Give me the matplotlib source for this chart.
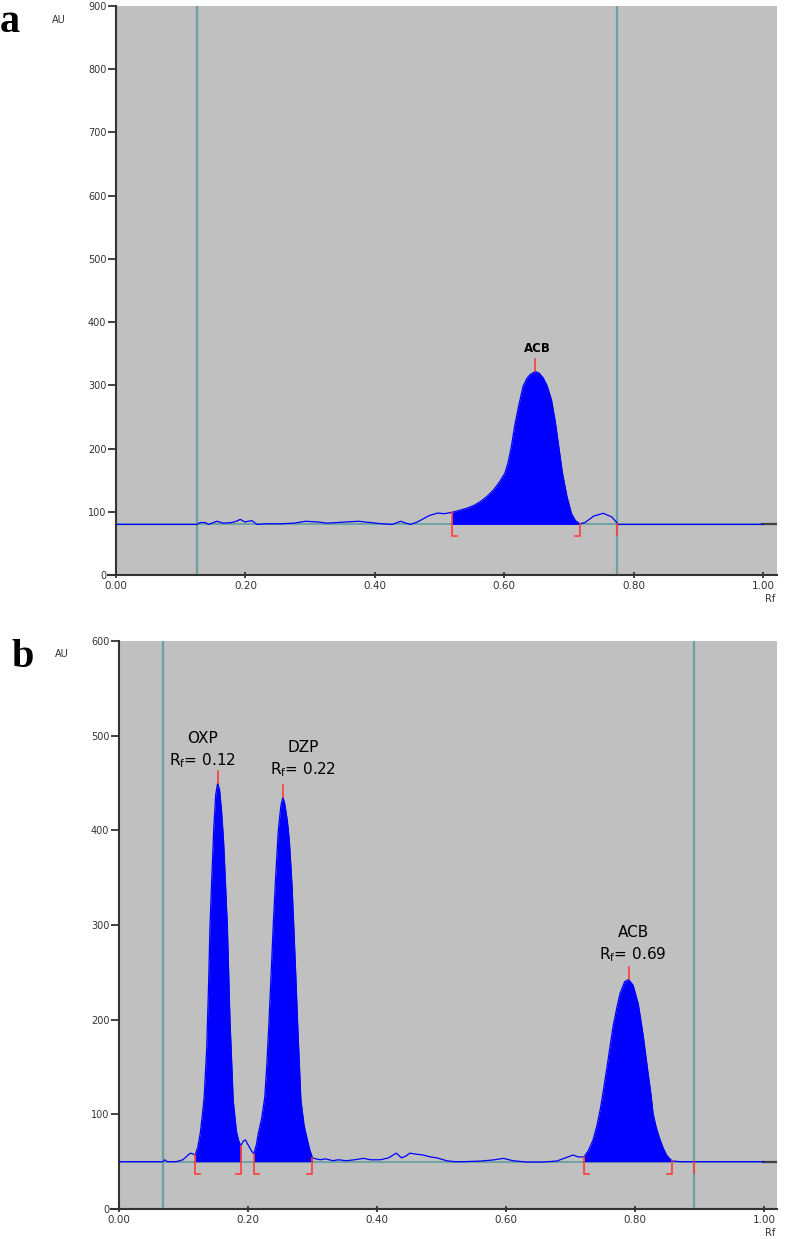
import numpy as np
import matplotlib.pyplot as plt

plt.rcParams['mathtext.default'] = 'regular'

# ---- panel a : densitogram trace (Rf, AU) ----
rf_a = [0.000, 0.125, 0.130, 0.138, 0.143, 0.156, 0.166, 0.179, 0.186, 0.192,
        0.199, 0.210, 0.218, 0.231, 0.254, 0.275, 0.293, 0.311, 0.326, 0.342,
        0.357, 0.375, 0.393, 0.411, 0.427, 0.440, 0.448, 0.455, 0.466, 0.484,
        0.497, 0.507, 0.519, 0.530, 0.542, 0.553, 0.563, 0.573, 0.583, 0.592,
        0.601, 0.606, 0.611, 0.616, 0.622, 0.629, 0.635, 0.640, 0.648, 0.654,
        0.660, 0.666, 0.673, 0.679, 0.684, 0.690, 0.697, 0.704, 0.710, 0.717,
        0.725, 0.738, 0.753, 0.766, 0.774, 0.775, 1.000]
au_a = [80, 80, 83, 83, 80, 85, 82, 83, 85, 88,
        84, 86, 80, 81, 81, 82, 85, 84, 82, 83,
        84, 85, 83, 81, 80, 85, 82, 80, 84, 94,
        98, 97, 99, 102, 105.5, 110, 116, 124, 134, 146,
        161, 178, 203, 235, 266, 298, 311, 317, 322, 319,
        312, 300, 277, 242, 205, 161, 124, 97, 86, 81,
        83, 93, 97.6, 92, 83, 80, 80]
peaks_a = [(0.519, 0.717)]
apex_a = [(0.648, 322)]
labels_a = ['ACB']
label_pos_a = [(0.651, 358)]
base_a = 80
vlines_a = [0.125, 0.775]

# ---- panel b ----
rf_b = [0.000, 0.068, 0.071, 0.075, 0.089, 0.099, 0.104, 0.107, 0.111, 0.115,
        0.118, 0.122, 0.126, 0.129, 0.132, 0.136, 0.139, 0.141, 0.144, 0.147,
        0.150, 0.153, 0.156, 0.159, 0.162, 0.165, 0.168, 0.170, 0.172, 0.175,
        0.177, 0.182, 0.186, 0.189, 0.193, 0.196, 0.200, 0.205, 0.209, 0.213,
        0.216, 0.221, 0.226, 0.229, 0.232, 0.236, 0.239, 0.243, 0.247, 0.251,
        0.254, 0.257, 0.261, 0.264, 0.268, 0.271, 0.274, 0.277, 0.282, 0.287,
        0.291, 0.296, 0.300, 0.305, 0.312, 0.320, 0.332, 0.340, 0.353, 0.365,
        0.379, 0.390, 0.405, 0.418, 0.425, 0.430, 0.438, 0.445, 0.451, 0.460,
        0.472, 0.483, 0.493, 0.508, 0.520, 0.534, 0.560, 0.580, 0.596, 0.611,
        0.632, 0.658, 0.679, 0.694, 0.704, 0.712, 0.721, 0.728, 0.735, 0.741,
        0.746, 0.751, 0.756, 0.761, 0.766, 0.772, 0.777, 0.784, 0.790, 0.797,
        0.805, 0.809, 0.813, 0.817, 0.821, 0.825, 0.828, 0.833, 0.839, 0.844,
        0.849, 0.854, 0.858, 0.870, 0.891, 1.000]
au_b = [50, 50, 52, 50, 50, 52, 55, 57, 59, 58,
        57, 65, 80, 98, 118, 170, 240, 298, 352, 403,
        438, 450, 442, 420, 390, 345, 298, 250, 200, 150,
        115, 82, 71, 67, 72, 73, 68, 62, 58, 68,
        80, 95, 118, 150, 190, 250, 298, 352, 400, 426,
        435, 428, 410, 390, 345, 298, 248, 195, 115, 88,
        76, 62, 54, 53, 52, 53, 51, 52, 51, 52,
        53.5, 52, 52, 54, 57, 59, 54, 56, 59, 58,
        57, 55, 54, 51, 50, 50, 50.6, 51.8, 53.5, 51,
        49.6, 49.6, 50.7, 54.5, 57, 55, 55, 62, 73, 88,
        104.5, 125, 147, 170, 192.5, 213, 228, 240, 242.5, 236.5,
        217, 200, 182, 161, 140, 120, 101, 86, 73, 64,
        57, 53, 50.7, 50, 50, 50]
peaks_b = [(0.118, 0.189), (0.209, 0.300), (0.721, 0.858)]
apex_b = [(0.153, 450), (0.254, 435), (0.790, 242.5)]
labels_b = ['OXP', 'DZP', 'ACB']
rf_text_b = ['0.12', '0.22', '0.69']
label_pos_b = [(0.129, 497), (0.285, 487), (0.797, 292)]
base_b = 50
vlines_b = [0.068, 0.891]

TEAL = '#6aa0a0'
RED = '#ff3b3b'
BLUE = '#0000ff'


def draw_panel(ax, rf, au, peaks, apex, base, vlines, ymax, px_per_unit, xmax):
    rf = np.array(rf)
    au = np.array(au)
    ax.set_facecolor('#c0c0c0')
    ax.set_xlim(0, xmax)
    ax.set_ylim(0, ymax)
    # baseline
    ax.plot([0, 1.0], [base, base], color=TEAL, lw=1.3, zorder=2)
    ax.plot([0.998, xmax], [base, base], color='#404040', lw=1.6, zorder=2)
    for v in vlines:
        ax.axvline(v, color=TEAL, lw=1.6, zorder=1)
    # trace and filled peaks
    ax.plot(rf, au, color=BLUE, lw=0.9, zorder=3)
    for s, e in peaks:
        m = (rf >= s - 1e-9) & (rf <= e + 1e-9)
        ax.fill_between(rf[m], au[m], base, color=BLUE, lw=0, zorder=3)
    depth = 12 / px_per_unit
    tick = 0.008
    for s, e in peaks:
        ys = np.interp(s, rf, au)
        ye = np.interp(e, rf, au)
        ax.plot([s, s, s + tick], [ys, base - depth, base - depth], color=RED, lw=1.2, zorder=4)
        ax.plot([e, e, e - tick], [ye, base - depth, base - depth], color=RED, lw=1.2, zorder=4)
    for x, y in apex:
        ax.plot([x, x], [y, y + 12 / px_per_unit], color=RED, lw=1.2, zorder=4)
    ax.plot([vlines[1], vlines[1]], [base, base - 11 / px_per_unit], color=RED, lw=1.2, zorder=4)

    for side in ('top', 'right'):
        ax.spines[side].set_visible(False)
    for side in ('left', 'bottom'):
        ax.spines[side].set_color('#333333')
        ax.spines[side].set_linewidth(1.5)
    ax.spines['bottom'].set_bounds(-0.012, xmax)
    ax.set_xticks(np.arange(0, 1.01, 0.2))
    ax.set_xticklabels(['%.2f' % t for t in np.arange(0, 1.01, 0.2)])
    ax.set_yticks(np.arange(0, ymax + 1, 100))
    ax.tick_params(axis='y', direction='out', length=6, width=1.3, color='#333333',
                   labelsize=7, labelcolor='#333333', pad=1)
    ax.tick_params(axis='x', direction='inout', length=4, width=1.3, color='#333333',
                   labelsize=7.5, labelcolor='#333333', pad=2)


fig = plt.figure(figsize=(7.85, 12.39), dpi=100)

ax_a = fig.add_axes([0.1478, 0.5359, 0.842, 0.4593])
draw_panel(ax_a, rf_a, au_a, peaks_a, apex_a, base_a, vlines_a, 900, 0.632, 1.0216)
for lab, (x, y) in zip(labels_a, label_pos_a):
    ax_a.text(x, y, lab, ha='center', va='center', fontsize=8.5, fontweight='bold',
              family='DejaVu Sans', color='black')

ax_b = fig.add_axes([0.1516, 0.0242, 0.838, 0.4585])
draw_panel(ax_b, rf_b, au_b, peaks_b, apex_b, base_b, vlines_b, 600, 0.947, 1.020)
for lab, rft, (x, y) in zip(labels_b, rf_text_b, label_pos_b):
    ax_b.text(x, y, lab, ha='center', va='center', fontsize=11, color='black')
    ax_b.text(x, y - 23, 'R$_f$= ' + rft, ha='center', va='center', fontsize=11,
              color='black')

# panel letters, axis captions
fig.text(0.0, 1 - 32 / 1239, 'a', fontsize=29, fontweight='bold',
         family='Liberation Serif', ha='left', va='baseline')
fig.text(12 / 785, 1 - 667 / 1239, 'b', fontsize=29, fontweight='bold',
         family='Liberation Serif', ha='left', va='baseline')
fig.text(59 / 785, 1 - 20 / 1239, 'AU', fontsize=7, color='#333333', ha='center', va='center')
fig.text(62 / 785, 1 - 654 / 1239, 'AU', fontsize=7, color='#333333', ha='center', va='center')
fig.text(770 / 785, 1 - 599 / 1239, 'Rf', fontsize=7, color='#333333', ha='center', va='center')
fig.text(770 / 785, 1 - 1233 / 1239, 'Rf', fontsize=7, color='#333333', ha='center', va='center')

fig.savefig('out.png', dpi=100)
